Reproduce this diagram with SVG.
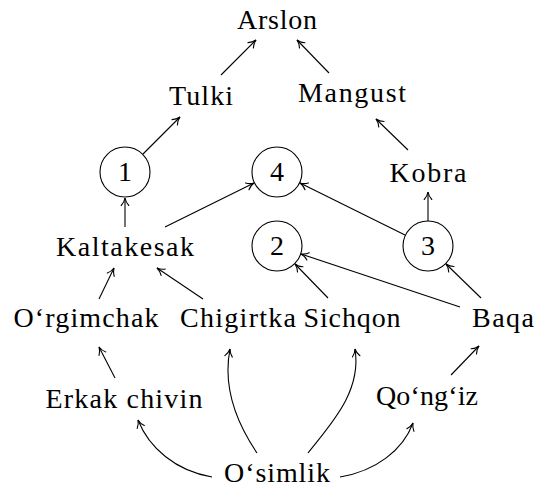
<svg xmlns="http://www.w3.org/2000/svg" width="546" height="488" viewBox="0 0 546 488">
<style>
  text { font-family: 'Liberation Serif', 'DejaVu Serif', 'Times New Roman', serif; font-size: 28px; fill: #000; text-anchor: middle; }
  circle.n { fill: none; stroke: #000; stroke-width: 1.1; }
  #edges path { fill: none; stroke: #000; stroke-width: 1.1; marker-end: url(#to); }
</style>
<defs>
  <marker id="to" markerUnits="userSpaceOnUse" markerWidth="12" markerHeight="12" viewBox="-10 -6 12 12" refX="0" refY="0" orient="auto">
    <path d="M -7.5 -3.8 C -5 -1.4 -1.6 -0.3 0 0 C -1.6 0.3 -5 1.4 -7.5 3.8" fill="none" stroke="#000" stroke-width="1.1" stroke-linecap="round"/>
  </marker>
</defs>
<rect width="546" height="488" fill="#fff"/>
<g id="edges">
  <path d="M221,75 L256,40"/>
  <path d="M329,73 L297,40"/>
  <path d="M143,154 L180,117"/>
  <path d="M408,150 L376,119"/>
  <path d="M125,227 L125,198"/>
  <path d="M165,227 L254,183"/>
  <path d="M405,235 L300,183"/>
  <path d="M428,221 L428,192"/>
  <path d="M99,299 L114,268"/>
  <path d="M203,299 L157,268"/>
  <path d="M328,298 L295,264"/>
  <path d="M460,307 L301,254"/>
  <path d="M481,298 L446,264"/>
  <path d="M115,378 L99,347"/>
  <path d="M451,375 L479,346"/>
  <path d="M212,477 C176,471 149,448 138,420"/>
  <path d="M257,453 C238,425 222,390 230,349"/>
  <path d="M308,453 C330,425 362,392 355,349"/>
  <path d="M340,477 C376,471 403,450 413,423"/>
</g>
<g id="arslon"><text x="277" y="29" textLength="80">Arslon</text></g>
<g id="tulki"><text x="201" y="105" textLength="64">Tulki</text></g>
<g id="mangust"><text x="352" y="102" textLength="108">Mangust</text></g>
<g id="n1"><circle class="n" cx="125" cy="172" r="25"/><text x="125" y="181">1</text></g>
<g id="n4"><circle class="n" cx="277" cy="172" r="25"/><text x="277" y="181">4</text></g>
<g id="kobra"><text x="428" y="182" textLength="77">Kobra</text></g>
<g id="kaltakesak"><text x="125" y="256" textLength="138">Kaltakesak</text></g>
<g id="n2"><circle class="n" cx="277" cy="246" r="25"/><text x="277" y="255">2</text></g>
<g id="n3"><circle class="n" cx="428" cy="246" r="25"/><text x="428" y="255">3</text></g>
<g id="orgimchak"><text x="86" y="327" textLength="145">O‘rgimchak</text></g>
<g id="chigirtka"><text x="238" y="327" textLength="116">Chigirtka</text></g>
<g id="sichqon"><text x="352" y="327" textLength="97">Sichqon</text></g>
<g id="baqa"><text x="503" y="327" textLength="62">Baqa</text></g>
<g id="erkak"><text x="124" y="408" textLength="157">Erkak chivin</text></g>
<g id="qongiz"><text x="427" y="405" textLength="102">Qo‘ng‘iz</text></g>
<g id="osimlik"><text x="277" y="482" textLength="106">O‘simlik</text></g>
</svg>
